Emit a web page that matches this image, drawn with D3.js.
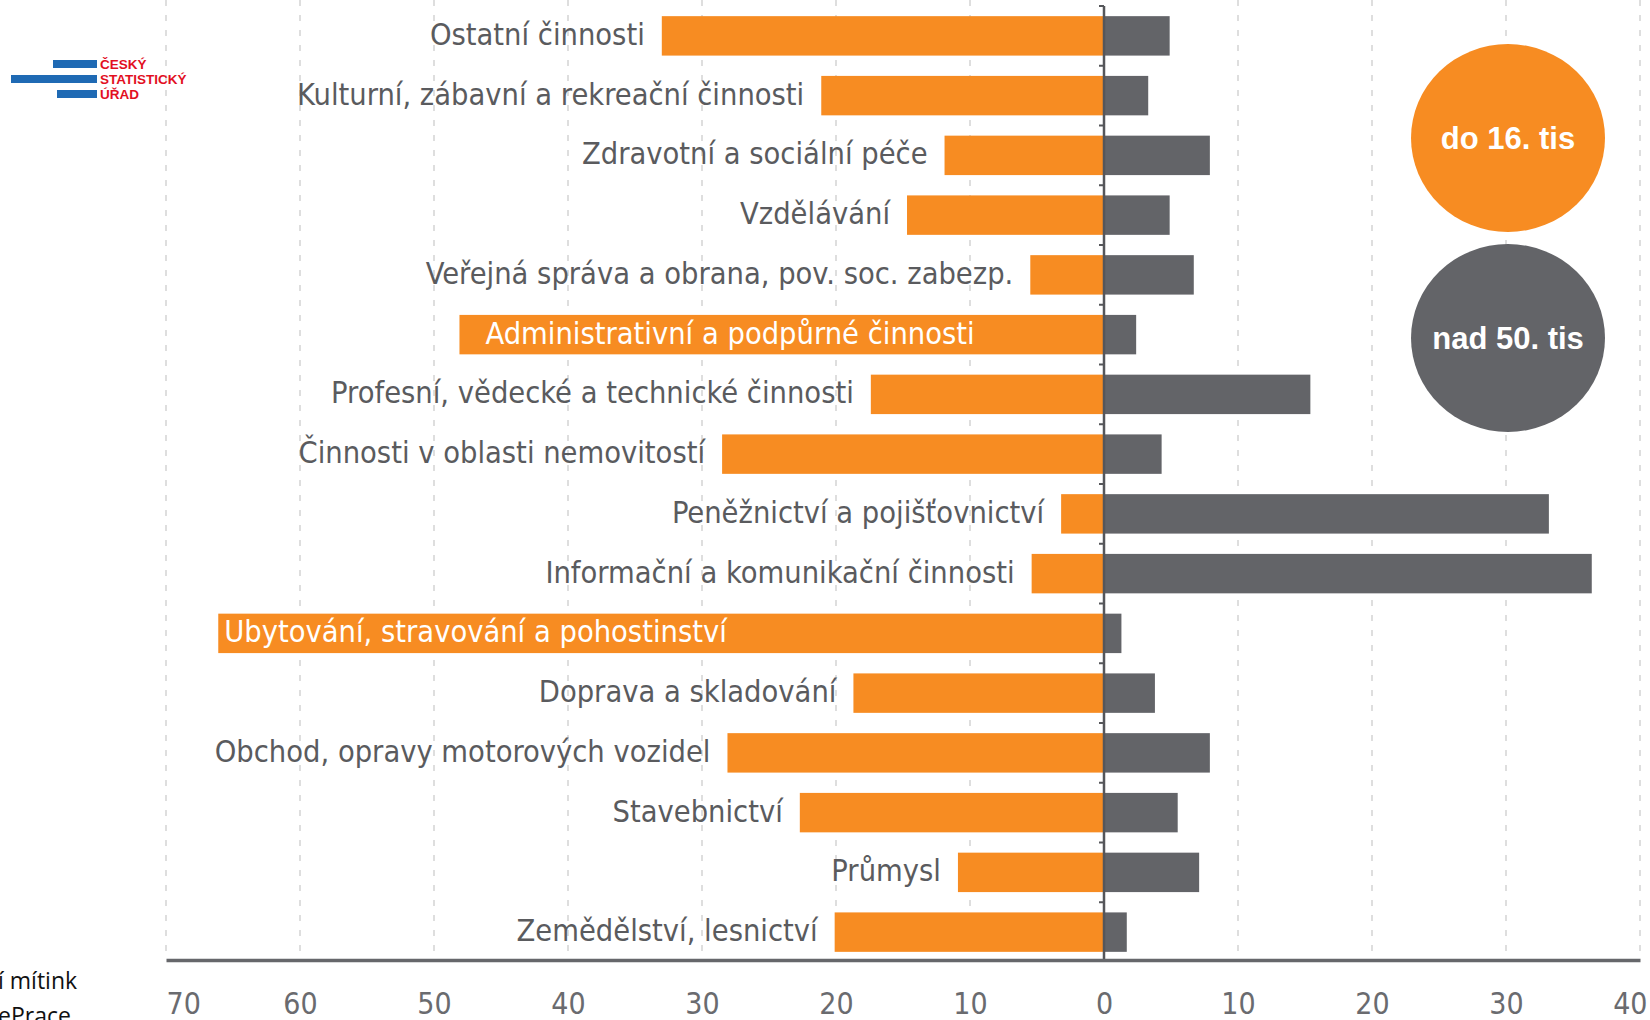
<!DOCTYPE html>
<html lang="cs">
<head>
    <meta charset="utf-8">
    <title>D3: Odvětví podle velikosti obce</title>
    <script type="text/javascript" src="https://d3js.org/d3.v7.min.js"></script>

    <style type="text/css">
        body {
            margin: 0;
            background: #fff;
        }

        .grid line {
            stroke: #d4d4d4;
            stroke-width: 1.5px;
            stroke-dasharray: 6, 9;
        }

        .label {
            font-family: "Liberation Sans Narrow", "DejaVu Sans Condensed", sans-serif;
            font-size: 30.5px;
            fill: #5a5b5e;
        }

        .label.inside {
            fill: #fff;
        }

        .tick-label {
            font-family: "Liberation Sans Narrow", "DejaVu Sans Condensed", sans-serif;
            font-size: 30px;
            fill: #6a6b6f;
        }

        .legend-text {
            font-family: "Liberation Sans", sans-serif;
            font-weight: bold;
            font-size: 31px;
            fill: #fff;
        }
    </style>
</head>
<body>
    <script type="text/javascript">

        //Categories, top to bottom
        var categories = [
            "Ostatní činnosti",
            "Kulturní, zábavní a rekreační činnosti",
            "Zdravotní a sociální péče",
            "Vzdělávání",
            "Veřejná správa a obrana, pov. soc. zabezp.",
            "Administrativní a podpůrné činnosti",
            "Profesní, vědecké a technické činnosti",
            "Činnosti v oblasti nemovitostí",
            "Peněžnictví a pojišťovnictví",
            "Informační a komunikační činnosti",
            "Ubytování, stravování a pohostinství",
            "Doprava a skladování",
            "Obchod, opravy motorových vozidel",
            "Stavebnictví",
            "Průmysl",
            "Zemědělství, lesnictví"
        ];

        //Obce do 16 tis. (drawn to the left)
        var smallTowns = [33.0, 21.1, 11.9, 14.7, 5.5, 48.1, 17.4, 28.5, 3.2, 5.4, 66.1, 18.7, 28.1, 22.7, 10.9, 20.1];

        //Obce nad 50 tis. (drawn to the right)
        var largeTowns = [4.9, 3.3, 7.9, 4.9, 6.7, 2.4, 15.4, 4.3, 33.2, 36.4, 1.3, 3.8, 7.9, 5.5, 7.1, 1.7];

        //Axis ticks
        var tickValues = [-70, -60, -50, -40, -30, -20, -10, 0, 10, 20, 30, 40];

        //Labels written inside their orange bar
        var insideLabels = ["Administrativní a podpůrné činnosti", "Ubytování, stravování a pohostinství"];

        var legendLabels = ["do 16. tis", "nad 50. tis"];

        //Width and height
        var w = 1650;
        var h = 1020;
        var orange = "#f78c22";
        var grey = "#636468";

        var svg = d3.select("body")
            .append("svg")
            .attr("width", w)
            .attr("height", h);

        var x = d3.scaleLinear()
            .domain([-70, 40])
            .range([166, 1640]);

        var y = d3.scaleBand()
            .domain(categories)
            .range([6, 962])
            .paddingInner(0.34)
            .paddingOuter(0.17);

        var axisY = 960;

        //Dashed vertical grid
        svg.append("g")
            .attr("class", "grid")
            .selectAll("line")
            .data(tickValues.filter(function (d) { return d !== 0; }))
            .enter()
            .append("line")
            .attr("x1", function (d) { return x(d); })
            .attr("x2", function (d) { return x(d); })
            .attr("y1", 0)
            .attr("y2", axisY);

        var rows = categories.map(function (c, i) {
            return { name: c, small: smallTowns[i], large: largeTowns[i] };
        });

        //Orange bars
        svg.append("g")
            .selectAll("rect")
            .data(rows)
            .enter()
            .append("rect")
            .attr("x", function (d) { return x(-d.small); })
            .attr("y", function (d) { return y(d.name); })
            .attr("width", function (d) { return x(0) - x(-d.small); })
            .attr("height", y.bandwidth())
            .attr("fill", orange);

        //Grey bars
        svg.append("g")
            .selectAll("rect")
            .data(rows)
            .enter()
            .append("rect")
            .attr("x", x(0))
            .attr("y", function (d) { return y(d.name); })
            .attr("width", function (d) { return x(d.large) - x(0); })
            .attr("height", y.bandwidth())
            .attr("fill", grey);

        //Category labels
        svg.append("g")
            .selectAll("text")
            .data(rows)
            .enter()
            .append("text")
            .attr("class", function (d) { return insideLabels.indexOf(d.name) >= 0 ? "label inside" : "label"; })
            .attr("x", function (d) {
                if (insideLabels.indexOf(d.name) >= 0) {
                    return x(-d.small) + (d.small > 60 ? 6 : 26);
                }
                return x(-d.small) - 17;
            })
            .attr("y", function (d) { return y(d.name) + y.bandwidth() / 2 + 9; })
            .attr("text-anchor", function (d) { return insideLabels.indexOf(d.name) >= 0 ? "start" : "end"; })
            .text(function (d) { return d.name; });

        //Zero line with small ticks between rows
        svg.append("line")
            .attr("x1", x(0))
            .attr("x2", x(0))
            .attr("y1", 6)
            .attr("y2", axisY)
            .attr("stroke", "#55565a")
            .attr("stroke-width", 2.5);

        svg.append("g")
            .selectAll("line")
            .data(categories)
            .enter()
            .append("line")
            .attr("x1", x(0) - 5)
            .attr("x2", x(0))
            .attr("y1", function (d) { return y(d) - y.step() * y.paddingInner() / 2; })
            .attr("y2", function (d) { return y(d) - y.step() * y.paddingInner() / 2; })
            .attr("stroke", "#55565a")
            .attr("stroke-width", 2);

        //Bottom axis
        var xAxis = d3.axisBottom(x)
            .tickValues(tickValues)
            .tickSize(0)
            .tickPadding(0)
            .tickFormat(function (d) { return Math.abs(d); });

        var gx = svg.append("g")
            .attr("transform", "translate(0," + axisY + ")")
            .call(xAxis);

        gx.select(".domain")
            .attr("stroke", "#66676b")
            .attr("stroke-width", 3.5);

        //end labels are pulled inside the page
        gx.selectAll("text")
            .attr("class", "tick-label")
            .attr("y", 54)
            .attr("dy", null)
            .attr("font-family", null)
            .attr("font-size", null)
            .attr("text-anchor", function (d) { return d === -70 ? "start" : d === 40 ? "end" : "middle"; })
            .attr("x", function (d) { return d === 40 ? 7 : 0; });

        //Legend circles
        var legend = svg.append("g")
            .selectAll("g")
            .data(legendLabels)
            .enter()
            .append("g")
            .attr("transform", function (d, i) { return "translate(1508," + (138 + i * 200) + ")"; });

        legend.append("ellipse")
            .attr("rx", 97)
            .attr("ry", 94)
            .attr("fill", function (d, i) { return i === 0 ? orange : grey; });

        legend.append("text")
            .attr("class", "legend-text")
            .attr("text-anchor", "middle")
            .attr("y", 11)
            .text(function (d) { return d; });

        //CSU logo
        var logo = svg.append("g");

        logo.selectAll("rect")
            .data([[53, 60, 44], [11, 75, 86], [57, 90, 40]])
            .enter()
            .append("rect")
            .attr("x", function (d) { return d[0]; })
            .attr("y", function (d) { return d[1]; })
            .attr("width", function (d) { return d[2]; })
            .attr("height", 8)
            .attr("fill", "#1f6ab4");

        logo.selectAll("text")
            .data(["ČESKÝ", "STATISTICKÝ", "ÚŘAD"])
            .enter()
            .append("text")
            .attr("x", 100)
            .attr("y", function (d, i) { return 69 + i * 15; })
            .attr("font-family", "Liberation Sans, sans-serif")
            .attr("font-weight", "bold")
            .attr("font-size", 13.5)
            .attr("fill", "#e2101f")
            .text(function (d) { return d; });

        //Slide footer, cut off at the edge
        svg.selectAll("text.footer")
            .data(["í mítink", "ePrace"])
            .enter()
            .append("text")
            .attr("class", "footer")
            .attr("x", -2)
            .attr("y", function (d, i) { return 989 + i * 35; })
            .attr("font-family", "Open Sans, sans-serif")
            .attr("font-size", 23)
            .attr("fill", "#111")
            .text(function (d) { return d; });

    </script>
</body>
</html>
